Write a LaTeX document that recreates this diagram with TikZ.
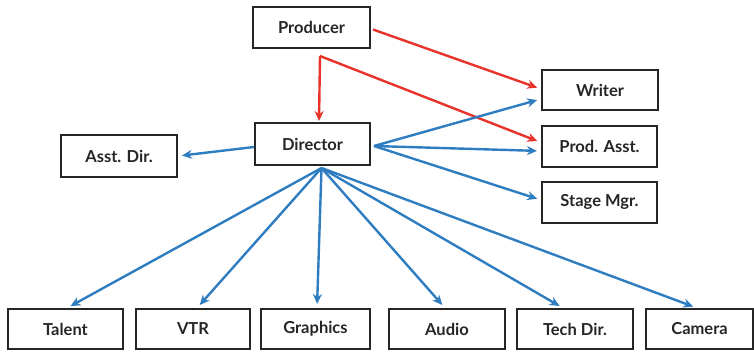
\documentclass[tikz,border=0pt]{standalone}
\usepackage{fontspec}
\setmainfont{Lato}
\usetikzlibrary{arrows.meta}
\definecolor{ared}{HTML}{E8332B}
\definecolor{ablue}{HTML}{2F7DC1}
\tikzset{
  box/.style={draw=black!85, line width=2pt, minimum height=41pt, inner sep=0pt, font=\bfseries\fontsize{16.5}{18}\selectfont, text=black!85},
  redarrow/.style={draw=ared, line width=2.4pt, -{Stealth[length=10pt,width=9pt]}, shorten >=4pt},
  bluearrow/.style={draw=ablue, line width=2.4pt, -{Stealth[length=10pt,width=9pt]}, shorten >=4pt}
}
\begin{document}
\begin{tikzpicture}[x=1pt,y=-1pt]
\useasboundingbox (0,0) rectangle (754,351);
\node[box, minimum width=117pt] (prod) at (311.5,27.5) {Producer};
\node[box, minimum width=116pt, minimum height=40pt] (writer) at (600,90) {Writer};
\node[box, minimum width=115pt, minimum height=42pt] (dir) at (312.5,144) {Director};
\node[box, minimum width=116pt, minimum height=42pt] (asst) at (119,156) {Asst. Dir.};
\node[box, minimum width=115pt] (pa) at (599.5,146.5) {Prod. Asst.};
\node[box, minimum width=115pt] (sm) at (599.5,202) {Stage Mgr.};
\node[box, minimum width=115pt, minimum height=40pt] (talent) at (65.5,329) {Talent};
\node[box, minimum width=114pt, minimum height=40pt] (vtr) at (193,329) {VTR};
\node[box, minimum width=109pt, minimum height=40pt] (gfx) at (315.5,329) {Graphics};
\node[box, minimum width=116pt, minimum height=40pt] (audio) at (447,329) {Audio};
\node[box, minimum width=116pt, minimum height=40pt] (tech) at (575,329) {Tech Dir.};
\node[box, minimum width=107pt, minimum height=40pt] (cam) at (699.5,329) {Camera};
\coordinate (pj) at ([xshift=8.5pt,yshift=-7pt]prod.south);
\coordinate (dj) at ([xshift=9pt,yshift=-2pt]dir.south);
\coordinate (dr) at ([xshift=3pt,yshift=-2pt]dir.east);
% red arrows
\draw[redarrow, shorten >=1pt] (pj) -- ([xshift=6.5pt]dir.north);
\draw[redarrow] (pj) -- ([yshift=4pt]pa.west);
\draw[redarrow] ([xshift=2pt,yshift=-2pt]prod.east) -- ([yshift=1pt]writer.west);
% blue arrows right
\draw[bluearrow] (dr) -- ([yshift=-9pt]writer.west);
\draw[bluearrow] (dr) -- ([yshift=-4.5pt]pa.west);
\draw[bluearrow] (dr) -- ([yshift=2pt]sm.west);
\draw[bluearrow] ([yshift=-3pt]dir.west) -- (asst.east);
% blue arrows down
\draw[bluearrow] (dj) -- ([xshift=1.5pt]talent.north);
\draw[bluearrow] (dj) -- ([xshift=4pt]vtr.north);
\draw[bluearrow] (dj) -- ([xshift=1.5pt]gfx.north);
\draw[bluearrow] (dj) -- ([xshift=-2pt]audio.north);
\draw[bluearrow] (dj) -- ([xshift=-12pt]tech.north);
\draw[bluearrow] (dj) -- ([xshift=-2.5pt]cam.north);
\end{tikzpicture}
\end{document}
